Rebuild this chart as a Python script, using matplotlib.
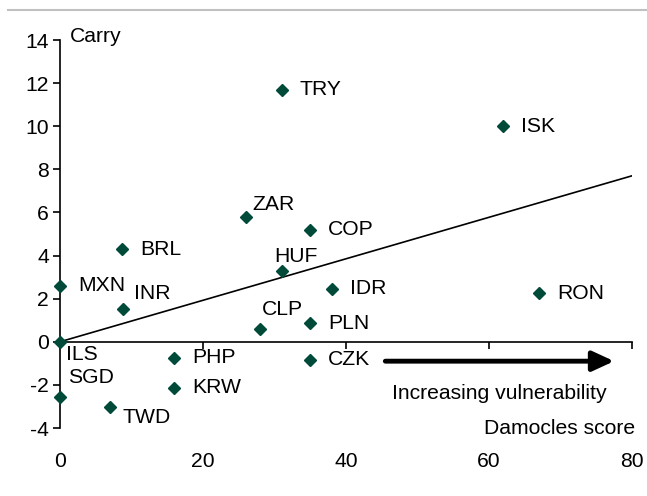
import matplotlib
matplotlib.use("Agg")
from matplotlib import pyplot as plt
from matplotlib.lines import Line2D

plt.rcParams["font.family"] = ["Liberation Sans", "DejaVu Sans"]
plt.rcParams["axes.unicode_minus"] = False

currencies = ["TRY", "ISK", "ZAR", "COP", "BRL", "HUF", "MXN", "IDR", "RON",
              "INR", "PLN", "CLP", "ILS", "PHP", "CZK", "KRW", "SGD", "TWD"]
damocles = [31, 62, 26, 35, 8.7, 31, 0, 38, 67, 8.8, 35, 28, 0, 16, 35, 16, 0, 7]
carry = [11.7, 10.0, 5.8, 5.2, 4.3, 3.3, 2.6, 2.45, 2.26, 1.52, 0.87, 0.6, 0.0,
         -0.75, -0.84, -2.14, -2.56, -3.02]

trend_x = [0, 80]
trend_y = [0, 7.7]

x_ticks = [0, 20, 40, 60, 80]
y_ticks = [-4, -2, 0, 2, 4, 6, 8, 10, 12, 14]

# label offsets in points (dx, dy)
offsets = {
    "ZAR": (5, 9),
    "HUF": (-5, 10),
    "INR": (8, 11),
    "CLP": (1, 14),
    "ILS": (4, -9),
    "SGD": (6, 14),
    "TWD": (9, -8),
}

green = "#004a3a"
fs = 15.2

fig = plt.figure(figsize=(6.47, 4.96), dpi=100)
ax = fig.add_axes([60 / 647, 68 / 496, 572 / 647, 388 / 496])

ax.plot(trend_x, trend_y, color="black", lw=1.2, zorder=2)
ax.plot(damocles, carry, "D", color=green, ms=6.5, zorder=3, clip_on=False)

for name, x, y in zip(currencies, damocles, carry):
    dx, dy = offsets.get(name, (13, 0))
    ax.annotate(name, (x, y), xytext=(dx, dy), textcoords="offset points",
                ha="left", va="center", fontsize=fs)

ax.set_xlim(0, 80)
ax.set_ylim(-4, 14)
ax.set_yticks(y_ticks)
ax.set_xticks(x_ticks)
ax.set_xticklabels([])

ax.spines["top"].set_visible(False)
ax.spines["right"].set_visible(False)
ax.spines["bottom"].set_position(("data", 0))
ax.spines["bottom"].set_linewidth(1.2)
ax.spines["left"].set_linewidth(1.2)
ax.tick_params(axis="y", direction="out", length=5, width=1.2, labelsize=fs, pad=3)
ax.tick_params(axis="x", direction="out", length=5, width=1.2)

# x tick labels sit at the bottom of the chart
sec = ax.secondary_xaxis(-0.05)
sec.set_xticks(x_ticks)
sec.spines["bottom"].set_visible(False)
sec.tick_params(length=0, labelsize=fs)

ax.text(0.017, 1.01, "Carry", transform=ax.transAxes, fontsize=fs,
        ha="left", va="center")
ax.text(1.005, -0.0, "Damocles score", transform=ax.transAxes, fontsize=fs,
        ha="right", va="center")
ax.text(61.5, -2.4, "Increasing vulnerability", fontsize=fs, ha="center", va="center")
ax.annotate("", xy=(77.5, -0.9), xytext=(45.5, -0.9),
            arrowprops=dict(arrowstyle="-|>,head_length=1.3,head_width=0.6",
                            color="black", lw=3.5, shrinkA=0, shrinkB=0))

fig.add_artist(Line2D([8 / 647, 1], [0.98, 0.98], color="#c0c0c0", lw=1.5))

fig.savefig("out.png", dpi=100)
